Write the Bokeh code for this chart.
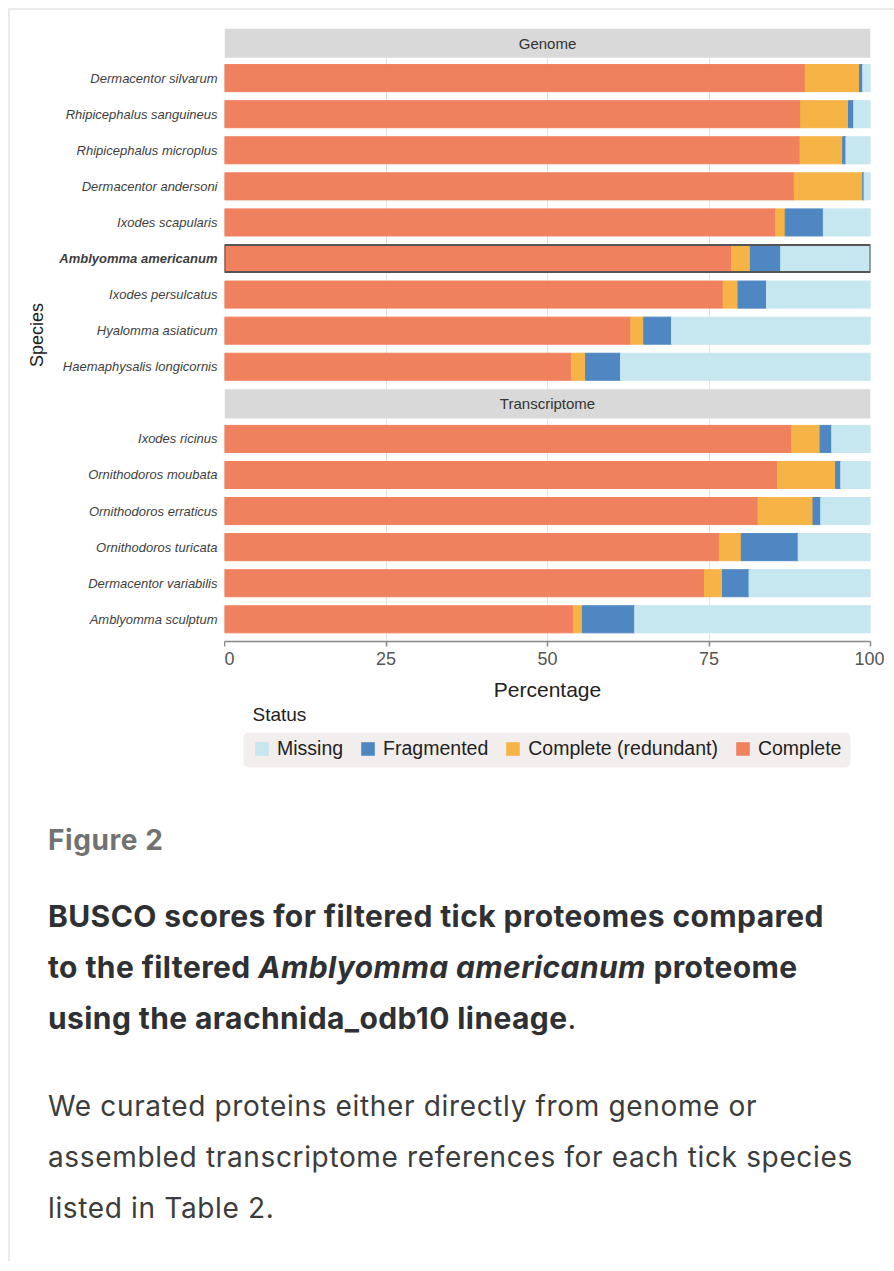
import math
from bokeh.plotting import figure
from bokeh.models import (ColumnDataSource, Range1d, FixedTicker, Legend, LegendItem, Div,
                          BoxAnnotation)
from bokeh.layouts import column, row
from bokeh.embed import file_html
from bokeh.resources import INLINE
from bokeh.core.properties import value, field

# ---------------- data ----------------
facets = ["Genome", "Transcriptome"]

genome_species = ["Dermacentor silvarum", "Rhipicephalus sanguineus", "Rhipicephalus microplus",
                  "Dermacentor andersoni", "Ixodes scapularis", "Amblyomma americanum",
                  "Ixodes persulcatus", "Hyalomma asiaticum", "Haemaphysalis longicornis"]
genome_complete = [89.9, 89.2, 89.1, 88.2, 85.3, 78.5, 77.2, 62.9, 53.7]
genome_redundant = [8.4, 7.4, 6.6, 10.6, 1.5, 2.9, 2.3, 2.0, 2.2]
genome_fragmented = [0.5, 0.8, 0.5, 0.2, 5.9, 4.7, 4.4, 4.3, 5.4]
genome_missing = [1.2, 2.6, 3.8, 1.0, 7.3, 13.9, 16.1, 30.8, 38.7]

transcriptome_species = ["Ixodes ricinus", "Ornithodoros moubata", "Ornithodoros erraticus",
                         "Ornithodoros turicata", "Dermacentor variabilis", "Amblyomma sculptum"]
transcriptome_complete = [87.8, 85.6, 82.6, 76.6, 74.3, 54.0]
transcriptome_redundant = [4.4, 9.0, 8.5, 3.4, 2.8, 1.4]
transcriptome_fragmented = [1.8, 0.8, 1.2, 8.8, 4.1, 8.1]
transcriptome_missing = [6.0, 4.6, 7.7, 11.2, 18.8, 36.5]

statuses = ["Complete", "Complete (redundant)", "Fragmented", "Missing"]
status_colors = ["#F0815F", "#F5B445", "#4F87C3", "#C6E6F0"]
legend_order = ["Missing", "Fragmented", "Complete (redundant)", "Complete"]
highlight = ["Amblyomma americanum"]
x_ticks = [0, 25, 50, 75, 100]

# ---------------- layout constants ----------------
STRIP, PAD, SPACING, BAR = 0.81, 0.065, 0.06, 0.75
FONT = "Liberation Sans"
LABEL_W = 214          # width of the species-label column (px)
FRAME_W, FRAME_H = 646, 613
TOP = 18

groups = [
    (facets[0], genome_species, genome_complete, genome_redundant, genome_fragmented, genome_missing),
    (facets[1], transcriptome_species, transcriptome_complete, transcriptome_redundant,
     transcriptome_fragmented, transcriptome_missing),
]

rows = {"species": [], "y": [], "style": []}
for s in statuses:
    rows[s] = []
strips = {"top": [], "bottom": [], "mid": [], "label": []}
cursor = 0.0
panel_bottom = 0.0
for name, sp, c, r, f, m in groups:
    strips["top"].append(cursor)
    strips["bottom"].append(cursor + STRIP)
    strips["mid"].append(cursor + STRIP / 2)
    strips["label"].append(name)
    base = cursor + STRIP + PAD + 0.5
    for i, s in enumerate(sp):
        rows["species"].append(s)
        rows["y"].append(base + i)
        rows["style"].append("bold italic" if s in highlight else "italic")
        rows["Complete"].append(c[i])
        rows["Complete (redundant)"].append(r[i])
        rows["Fragmented"].append(f[i])
        rows["Missing"].append(m[i])
    panel_bottom = cursor + STRIP + 2 * PAD + len(sp)
    cursor = panel_bottom + SPACING
y_end = panel_bottom + 0.05

src = ColumnDataSource(rows)
strip_src = ColumnDataSource(strips)
hl_src = ColumnDataSource({"y": [y for s, y in zip(rows["species"], rows["y"]) if s in highlight]})

x0, x1 = x_ticks[0], x_ticks[-1]
y_range = Range1d(y_end, 0)

# ---------------- species label column ----------------
lab = figure(frame_width=LABEL_W, frame_height=FRAME_H, x_range=Range1d(0, LABEL_W), y_range=y_range,
             x_axis_location=None, y_axis_location=None, output_backend="svg", toolbar_location=None,
             min_border_left=0, min_border_right=0, min_border_top=TOP, min_border_bottom=0)
lab.outline_line_color = None
lab.grid.visible = False
lab.text(x=LABEL_W - 7, y="y", text="species", source=src, text_align="right",
         text_baseline="middle", text_font=value(FONT), text_font_size="13px",
         text_font_style=field("style"), text_color="#3E3E3E")
lab.text(x=[26], y=[y_end / 2], text=["Species"], angle=math.pi / 2, text_align="center",
         text_baseline="middle", text_font=value(FONT), text_font_size="18px", text_color="#222222")

# ---------------- main panel ----------------
p = figure(frame_width=FRAME_W, frame_height=FRAME_H, x_range=Range1d(x0, x1), y_range=y_range,
           y_axis_location=None, output_backend="svg", toolbar_location=None,
           min_border_left=0, min_border_right=14, min_border_top=TOP, min_border_bottom=0)
p.outline_line_color = None

p.quad(left=x0, right=x1, top="top", bottom="bottom", source=strip_src,
       fill_color="#D9D9D9", line_color=None)
p.text(x=(x0 + x1) / 2, y="mid", text="label", source=strip_src,
       text_align="center", text_baseline="middle", text_font=value(FONT),
       text_font_size="15px", text_color="#333333")

p.hbar_stack(statuses, y="y", height=BAR, color=status_colors, source=src)

p.hbar(y="y", left=x0, right=x1, height=BAR, source=hl_src,
       fill_color=None, line_color="#555555", line_width=2)

p.xaxis.ticker = FixedTicker(ticks=x_ticks, minor_ticks=[])
p.xaxis.axis_label = "Percentage"
p.xaxis.axis_label_text_font = FONT
p.xaxis.axis_label_text_font_style = "normal"
p.xaxis.axis_label_text_font_size = "21px"
p.xaxis.axis_label_text_color = "#222222"
p.xaxis.axis_label_standoff = 10
p.xaxis.major_label_text_font = FONT
p.xaxis.major_label_text_font_size = "18px"
p.xaxis.major_label_text_color = "#555555"
p.xaxis.axis_line_color = "#888888"
p.xaxis.axis_line_width = 1.5
p.xaxis.major_tick_line_color = "#888888"
p.xaxis.major_tick_line_width = 1.5
p.xaxis.major_tick_out = 5
p.xaxis.major_tick_in = 0
p.xaxis.minor_tick_line_color = None

p.xgrid.grid_line_color = "#E4E4E4"
p.xgrid.grid_line_width = 1
p.ygrid.visible = False

# ---------------- legend strip ----------------
LEG_H = 86
leg = figure(frame_width=FRAME_W, frame_height=LEG_H, x_range=Range1d(0, FRAME_W), y_range=Range1d(0, LEG_H),
             x_axis_location=None, y_axis_location=None, output_backend="svg", toolbar_location=None,
             min_border_left=LABEL_W, min_border_right=14, min_border_top=0, min_border_bottom=0)
leg.outline_line_color = None
leg.grid.visible = False

# legend background panel (in px units of this strip)
box = BoxAnnotation(left=19, right=626, bottom=22, top=57, fill_color="#F2EEED", fill_alpha=1,
                    line_color=None)
if "border_radius" in BoxAnnotation.properties():
    box.border_radius = 5
leg.add_layout(box)

# zero-size proxy bars that only provide the legend swatches
swatches = [leg.hbar(y=[0], left=[0], right=[0], height=0, fill_color=c, line_color=None)
            for c in status_colors]
items = [LegendItem(label=name, renderers=[swatches[statuses.index(name)]]) for name in legend_order]
legend = Legend(items=items, orientation="horizontal", location=(29, 29),
                label_text_font=FONT, label_text_font_size="19.5px", label_text_color="#222222",
                glyph_width=17, glyph_height=17, label_standoff=7, spacing=16,
                padding=0, margin=0, background_fill_alpha=0, border_line_color=None)
leg.add_layout(legend)
leg.text(x=[28], y=[75], text=["Status"], text_baseline="middle", text_font=value(FONT),
         text_font_size="19px", text_color="#222222")

caption_html = """
<div style="font-family:Inter, 'Noto Sans', sans-serif; padding-left:33px; white-space:nowrap;">
  <div style="margin-top:28px; font-size:28px; line-height:36px; font-weight:700; color:#727272; letter-spacing:0.6px;">Figure 2</div>
  <div style="margin-top:33px; font-size:30px; line-height:51px; font-weight:700; color:#2E3033; letter-spacing:0.4px;">BUSCO scores for filtered tick proteomes compared<br>to the filtered <i>Amblyomma americanum</i> proteome<br>using the arachnida_odb10 lineage<span style="font-weight:400;">.</span></div>
  <div style="margin-top:37px; font-size:28px; line-height:51px; font-weight:400; color:#3C3C3C; letter-spacing:0.65px;">We curated proteins either directly from genome or<br>assembled transcriptome references for each tick species<br>listed in Table 2.</div>
</div>
"""
caption = Div(text=caption_html, width=LABEL_W + FRAME_W + 14, height=462)

layout = column(row(lab, p), leg, caption,
                styles={"margin-left": "8px", "margin-top": "8px",
                        "border-top": "2px solid #EBEBEB", "border-left": "2px solid #EBEBEB"})

open("out.html", "w").write(file_html(layout, INLINE))
